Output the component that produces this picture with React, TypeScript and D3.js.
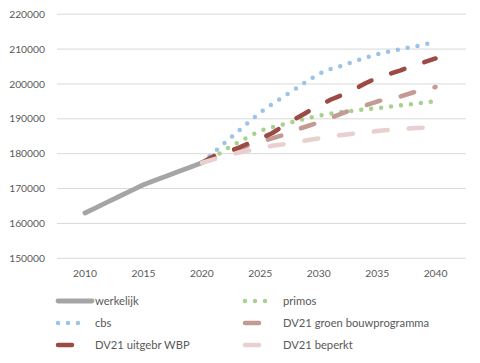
import React from "react";
import * as d3 from "d3";

const yearsActual = [2010, 2011, 2012, 2013, 2014, 2015, 2016, 2017, 2018, 2019, 2020];
const werkelijk = [163000, 164620, 166240, 167860, 169480, 171100, 172360, 173620, 174880, 176140, 177400];

const yearsProj = [2020, 2021, 2022, 2023, 2024, 2025, 2026, 2027, 2028, 2029, 2030, 2031, 2032, 2033, 2034, 2035, 2036, 2037, 2038, 2039, 2040];
const primos = [177400, 178900, 181200, 183000, 184900, 186550, 187600, 188400, 189330, 190200, 190900, 191450, 191970, 192350, 192700, 193060, 193440, 193840, 194240, 194640, 195040];
const cbs = [177400, 180300, 183250, 186100, 189000, 191800, 194200, 196350, 198570, 200800, 202900, 204300, 205260, 206400, 207500, 208500, 209250, 210000, 210600, 211300, 212000];
const groen = [177400, 178700, 180000, 181400, 182420, 183340, 184400, 185380, 186780, 187870, 188930, 190200, 191540, 192800, 193840, 194960, 195870, 196420, 197480, 198400, 199120];
const uitgebr = [177400, 179300, 180350, 181500, 182970, 184340, 185860, 188000, 190000, 191890, 193750, 195470, 196820, 198370, 200200, 201730, 202820, 203900, 205110, 206200, 207300];
const beperkt = [177400, 178380, 179320, 180180, 180900, 181500, 182280, 182730, 183280, 183850, 184400, 184970, 185370, 185720, 186120, 186500, 186810, 187010, 187270, 187470, 187670];

const yTicks = [150000, 160000, 170000, 180000, 190000, 200000, 210000, 220000];
const xTicks = [2010, 2015, 2020, 2025, 2030, 2035, 2040];

type Style = "solid" | "dot" | "dash";
const series: { name: string; years: number[]; values: number[]; color: string; style: Style }[] = [
  { name: "werkelijk", years: yearsActual, values: werkelijk, color: "#a5a5a5", style: "solid" },
  { name: "primos", years: yearsProj, values: primos, color: "#a9d18e", style: "dot" },
  { name: "cbs", years: yearsProj, values: cbs, color: "#9dc3e6", style: "dot" },
  { name: "DV21 groen bouwprogramma", years: yearsProj, values: groen, color: "#c49a94", style: "dash" },
  { name: "DV21 uitgebr WBP", years: yearsProj, values: uitgebr, color: "#9b4a44", style: "dash" },
  { name: "DV21 beperkt", years: yearsProj, values: beperkt, color: "#e8d0cf", style: "dash" },
];

const legendOrder = ["werkelijk", "primos", "cbs", "DV21 groen bouwprogramma", "DV21 uitgebr WBP", "DV21 beperkt"];

const FONT = "Lato, 'Open Sans', sans-serif";
const TEXT = "#595959";

function dashFor(style: Style) {
  if (style === "dot") return "0 10";
  if (style === "dash") return "14 21";
  return undefined;
}

export default function App() {
  const W = 480, H = 363;
  const x = d3.scaleLinear().domain([2010, 2040]).range([85, 435.6]);
  const y = d3.scaleLinear().domain([150000, 220000]).range([258.3, 14.2]);
  const left = 57, right = 466;

  const line = d3
    .line<[number, number]>()
    .x((d) => x(d[0]))
    .y((d) => y(d[1]));

  const legendRows = [301, 323, 345];
  const legendCols = [58, 245];
  const textCols = [95, 283];

  return (
    <svg width={W} height={H} style={{ position: "absolute", left: 0, top: 0, background: "#fff" }}>
      <rect width={W} height={H} fill="#fff" />
      {yTicks.map((t) => (
        <g key={t}>
          <line x1={left} x2={right} y1={y(t)} y2={y(t)} stroke="#d9d9d9" strokeWidth={1} />
          <text x={45} y={y(t)} dy="0.35em" textAnchor="end" fontFamily={FONT} fontSize={10.3} fill={TEXT}>
            {t}
          </text>
        </g>
      ))}
      {xTicks.map((t) => (
        <text key={t} x={x(t)} y={273} dy="0.35em" textAnchor="middle" fontFamily={FONT} fontSize={10.3} fill={TEXT}>
          {t}
        </text>
      ))}
      {series.map((s) => (
        <path
          key={s.name}
          d={line(s.years.map((yr, i) => [yr, s.values[i]] as [number, number])) || ""}
          fill="none"
          stroke={s.color}
          strokeWidth={s.style === "solid" ? 4.8 : 4.5}
          strokeLinecap="round"
          strokeLinejoin="round"
          strokeDasharray={dashFor(s.style)}
        />
      ))}
      {legendOrder.map((name, i) => {
        const s = series.find((d) => d.name === name)!;
        const row = Math.floor(i / 2);
        const col = i % 2;
        const ly = legendRows[row];
        const x0 = legendCols[col];
        const x1 = s.style === "dot" ? x0 + 30 : x0 + 34;
        return (
          <g key={name}>
            <line
              x1={x0}
              x2={x1}
              y1={ly}
              y2={ly}
              stroke={s.color}
              strokeWidth={s.style === "solid" ? 4.8 : 4.5}
              strokeLinecap="round"
              strokeDasharray={dashFor(s.style)}
            />
            <text x={textCols[col]} y={ly} dy="0.35em" fontFamily={FONT} fontSize={11.2} fill={TEXT}>
              {name}
            </text>
          </g>
        );
      })}
    </svg>
  );
}
